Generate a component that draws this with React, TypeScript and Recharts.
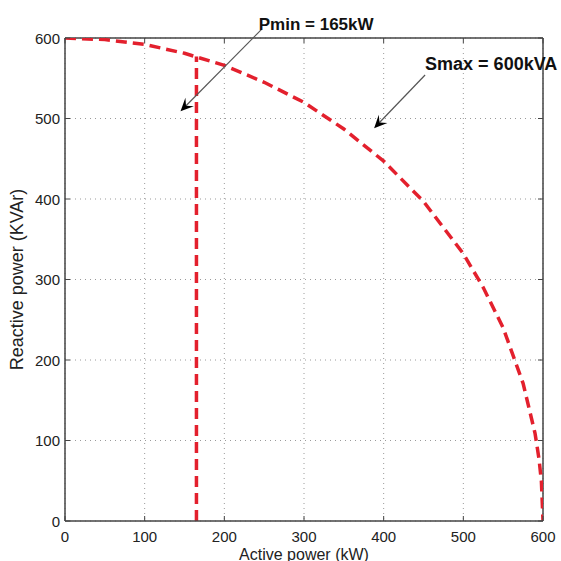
import React from "react";
import {
  LineChart,
  Line,
  XAxis,
  YAxis,
  CartesianGrid,
  ReferenceLine,
} from "recharts";

// ─── Data ────────────────────────────────────────────────

// S = 600 kVA capability limit
const activeP = [0, 50, 100, 150, 200, 250, 300, 350, 400, 450, 500, 525, 550, 575, 590, 595, 598, 600];
const reactiveQ = [600, 598, 592, 581, 566, 545, 520, 487, 447, 397, 332, 290, 240, 171, 109, 77, 49, 0];

// Pmin = 165 kW limit
const pminP = [165, 165];
const pminQ = [0, 577];

const ticks = [0, 100, 200, 300, 400, 500, 600];

const smaxData = activeP.map((p, i) => ({ p, q: reactiveQ[i] }));
const pminData = pminP.map((p, i) => ({ p, q: pminQ[i] }));

// ─── Layout ──────────────────────────────────────────────

const W = 561;
const H = 561;
const MARGIN = { top: 38, right: 18, left: 0, bottom: 0 };
const Y_W = 65;
const X_H = 40;
const PLOT_LEFT = MARGIN.left + Y_W;
const PLOT_RIGHT = W - MARGIN.right;
const PLOT_TOP = MARGIN.top;
const PLOT_BOTTOM = H - MARGIN.bottom - X_H;

const RED = "#e3202d";
const FONT = "'Liberation Sans', Arial, sans-serif";
const TICK_LEN = 5;

// ─── Ticks (labels outside, marks inside like MATLAB) ────

function XTick(props: any) {
  const { x, y, payload } = props;
  return (
    <g>
      <line x1={x} x2={x} y1={PLOT_BOTTOM} y2={PLOT_BOTTOM - TICK_LEN} stroke="#444" />
      <line x1={x} x2={x} y1={PLOT_TOP} y2={PLOT_TOP + TICK_LEN} stroke="#444" />
      <text x={x} y={y} dy={15} textAnchor="middle" fontSize={15} fill="#222" fontFamily={FONT}>
        {payload.value}
      </text>
    </g>
  );
}

function YTick(props: any) {
  const { x, y, payload } = props;
  return (
    <g>
      <line x1={PLOT_LEFT} x2={PLOT_LEFT + TICK_LEN} y1={y} y2={y} stroke="#444" />
      <line x1={PLOT_RIGHT} x2={PLOT_RIGHT - TICK_LEN} y1={y} y2={y} stroke="#444" />
      <text x={x} y={y} dy={5.5} textAnchor="end" fontSize={15} fill="#222" fontFamily={FONT}>
        {payload.value}
      </text>
    </g>
  );
}

// ─── Annotation arrow ────────────────────────────────────

function Arrow(props: any) {
  const { x1, y1, x2, y2, text, dx, dy, fontSize } = props;
  if ([x1, y1, x2, y2].some((v) => v === undefined || Number.isNaN(v))) return <g />;
  const a = Math.atan2(y2 - y1, x2 - x1);
  const len = 13;
  const half = 6;
  const bx = x2 - len * Math.cos(a);
  const by = y2 - len * Math.sin(a);
  const nx = -Math.sin(a);
  const ny = Math.cos(a);
  const notchX = x2 - len * 0.6 * Math.cos(a);
  const notchY = y2 - len * 0.6 * Math.sin(a);
  const head = [
    [x2, y2],
    [bx + nx * half, by + ny * half],
    [notchX, notchY],
    [bx - nx * half, by - ny * half],
  ]
    .map((pt) => pt.join(","))
    .join(" ");
  return (
    <g>
      <line x1={x1} y1={y1} x2={notchX} y2={notchY} stroke="#555" strokeWidth={1.2} />
      <polygon points={head} fill="#000" />
      <text
        x={x1 + dx}
        y={y1 + dy}
        fontSize={fontSize}
        fontWeight="bold"
        fill="#111"
        fontFamily={FONT}
      >
        {text}
      </text>
    </g>
  );
}

export default function App() {
  return (
    <div style={{ position: "absolute", left: 0, top: 0, width: W, height: H, background: "#fff" }}>
      <LineChart width={W} height={H} margin={MARGIN}>
        <CartesianGrid stroke="#9a9a9a" strokeDasharray="1 4" />
        <XAxis
          type="number"
          dataKey="p"
          domain={[0, 600]}
          ticks={ticks}
          allowDataOverflow
          height={X_H}
          tickSize={0}
          tickMargin={6}
          tick={<XTick />}
          axisLine={{ stroke: "#444", strokeWidth: 1.5 }}
          label={{
            value: "Active power (kW)",
            position: "insideBottom",
            offset: 1,
            fontSize: 16,
            fill: "#222",
            fontFamily: FONT,
          }}
        />
        <YAxis
          type="number"
          dataKey="q"
          domain={[0, 600]}
          ticks={ticks}
          allowDataOverflow
          width={Y_W}
          tickSize={0}
          tickMargin={5}
          tick={<YTick />}
          axisLine={{ stroke: "#444", strokeWidth: 1.5 }}
          label={{
            value: "Reactive power (KVAr)",
            angle: -90,
            position: "insideLeft",
            offset: 17,
            fontSize: 18,
            fill: "#222",
            fontFamily: FONT,
            style: { textAnchor: "middle" },
          }}
        />
        {/* box closing the plot on top and right */}
        <ReferenceLine y={600} stroke="#444" strokeWidth={1.5} />
        <ReferenceLine x={600} stroke="#444" strokeWidth={1.5} />
        <Line
          data={smaxData}
          dataKey="q"
          type="linear"
          stroke={RED}
          strokeWidth={3.5}
          strokeDasharray="11 6"
          dot={false}
          isAnimationActive={false}
        />
        <Line
          data={pminData}
          dataKey="q"
          type="linear"
          stroke={RED}
          strokeWidth={3.5}
          strokeDasharray="11 6"
          dot={false}
          isAnimationActive={false}
        />
        <ReferenceLine
          segment={[
            { x: 247, y: 611 },
            { x: 145, y: 509 },
          ]}
          ifOverflow="visible"
          shape={(p: any) => <Arrow {...p} text="Pmin = 165kW" dx={-3} dy={1} fontSize={17} />}
        />
        <ReferenceLine
          segment={[
            { x: 452, y: 554 },
            { x: 388, y: 488 },
          ]}
          ifOverflow="visible"
          shape={(p: any) => <Arrow {...p} text="Smax = 600kVA" dx={0} dy={-5} fontSize={18} />}
        />
      </LineChart>
    </div>
  );
}
